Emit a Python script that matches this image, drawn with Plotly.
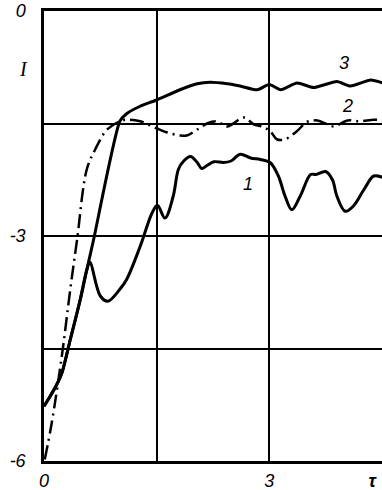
import plotly.graph_objects as go

# Curve 3 (solid, upper)
x3 = [0.0, 0.08, 0.17, 0.24, 0.35, 0.48, 0.57, 0.66, 1.01, 1.10, 1.28, 1.49, 1.81, 2.04, 2.21, 2.44, 2.61, 2.84,
      3.00, 3.15, 3.37, 3.59, 3.90, 4.08, 4.35, 4.51]
y3 = [-5.27, -5.14, -4.98, -4.82, -4.38, -3.86, -3.45, -3.05, -1.47, -1.37, -1.27, -1.19, -1.05, -0.97, -0.95, -0.97,
      -1.00, -1.05, -0.98, -1.05, -0.96, -1.02, -0.94, -1.00, -0.92, -0.96]

# Curve 2 (dash-dot)
x2 = [0.01, 0.10, 0.24, 0.35, 0.44, 0.57, 0.68, 0.84, 1.01, 1.10, 1.28, 1.49, 1.64, 1.81, 1.90, 2.04, 2.17, 2.30,
      2.44, 2.66, 2.79, 2.90, 3.01, 3.10, 3.21, 3.37, 3.50, 3.64, 3.77, 3.86, 4.04, 4.21, 4.39, 4.51]
y2 = [-5.98, -5.51, -4.58, -3.71, -3.05, -2.11, -1.85, -1.58, -1.47, -1.45, -1.47, -1.56, -1.62, -1.66, -1.66, -1.58,
      -1.50, -1.47, -1.54, -1.42, -1.51, -1.54, -1.60, -1.71, -1.71, -1.60, -1.48, -1.46, -1.51, -1.54, -1.46, -1.47,
      -1.45, -1.46]

# Curve 1 (solid, lower)
x1 = [0.0, 0.08, 0.17, 0.24, 0.35, 0.48, 0.57, 0.61, 0.75, 0.85, 1.01, 1.10, 1.28, 1.44, 1.51, 1.61, 1.72, 1.79,
      1.86, 1.95, 2.04, 2.10, 2.17, 2.26, 2.39, 2.49, 2.61, 2.75, 2.88, 3.01, 3.12, 3.21, 3.30, 3.41, 3.55, 3.62,
      3.75, 3.84, 3.90, 4.01, 4.12, 4.26, 4.39, 4.51]
y1 = [-5.27, -5.14, -4.98, -4.82, -4.38, -3.86, -3.45, -3.35, -3.80, -3.87, -3.71, -3.58, -3.14, -2.69, -2.59, -2.76,
      -2.47, -2.11, -2.00, -1.94, -2.02, -2.10, -2.06, -2.01, -2.02, -2.00, -1.91, -1.96, -1.98, -2.02, -2.20, -2.47,
      -2.65, -2.47, -2.18, -2.18, -2.14, -2.25, -2.47, -2.67, -2.60, -2.38, -2.20, -2.22]

y_tickvals = [-6, -4.5, -3, -1.5, 0]
y_ticktext = ["-6", "", "-3", "", "0"]
x_tickvals = [0, 3, 4.37]
x_ticktext = ["0", "3", "<b>τ</b>"]
x_gridvals = [1.5, 3, 4.5]

curve_labels = ["1", "2", "3"]
label_x = [2.72, 4.04, 3.99]
label_y = [-2.31, -1.27, -0.69]

FONT = dict(family="Liberation Sans", size=18, color="black", style="italic")

fig = go.Figure()
fig.add_trace(go.Scatter(x=x1, y=y1, mode="lines", line=dict(color="black", width=3, shape="spline", smoothing=1.0)))
fig.add_trace(go.Scatter(x=x3, y=y3, mode="lines", line=dict(color="black", width=3, shape="spline", smoothing=0.6)))
fig.add_trace(go.Scatter(x=x2, y=y2, mode="lines",
                         line=dict(color="black", width=2.5, shape="spline", smoothing=1.0, dash="14px,5px,2px,5px")))

for t, xx, yy in zip(curve_labels, label_x, label_y):
    fig.add_annotation(x=xx, y=yy, text=t, showarrow=False, font=FONT)

fig.add_annotation(xref="paper", yref="paper", x=-0.081, y=0.90, text="I", showarrow=False,
                   font=dict(family="Liberation Serif", size=20, color="black", style="italic"))

fig.update_layout(
    width=382, height=490,
    margin=dict(l=44, r=0, t=11, b=29, autoexpand=False),
    paper_bgcolor="white", plot_bgcolor="white",
    showlegend=False,
    font=FONT,
)
fig.update_xaxes(range=[0, 4.5], tickvals=x_tickvals, ticktext=x_ticktext, showgrid=False,
                 minor=dict(tickmode="array", tickvals=x_gridvals, showgrid=True, gridcolor="black",
                            gridwidth=1.5, ticks=""),
                 showline=True, linecolor="black", linewidth=2.5,
                 mirror=True, zeroline=False, ticks="outside", ticklen=2, tickcolor="rgba(0,0,0,0)",
                 tickfont=FONT, automargin=False)
fig.update_yaxes(range=[-6, 0], tickvals=y_tickvals, ticktext=y_ticktext, showgrid=True,
                 gridcolor="black", gridwidth=1.5, showline=True, linecolor="black", linewidth=2.5,
                 zeroline=False, ticks="outside", ticklen=12, tickcolor="rgba(0,0,0,0)", tickfont=FONT,
                 automargin=False)

fig.write_html("out.html", config={"displayModeBar": False},
               post_script="document.body.style.margin='0';")
